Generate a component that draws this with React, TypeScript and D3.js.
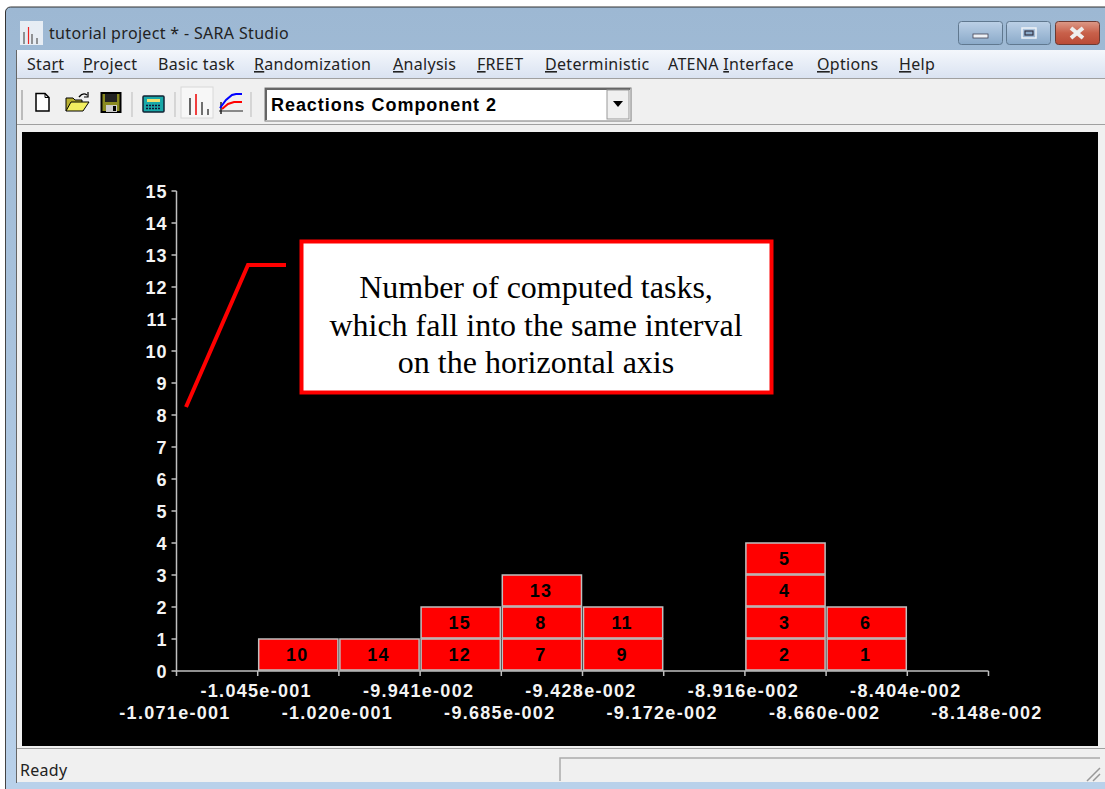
import React from 'react';
import * as d3 from 'd3';

const yTicks = [0, 1, 2, 3, 4, 5, 6, 7, 8, 9, 10, 11, 12, 13, 14, 15];
const xLabels = [
  '-1.071e-001', '-1.045e-001', '-1.020e-001', '-9.941e-002', '-9.685e-002', '-9.428e-002',
  '-9.172e-002', '-8.916e-002', '-8.660e-002', '-8.404e-002', '-8.148e-002',
];
// task numbers stacked in each interval, bottom to top
const binTasks = [[], [10], [14], [12, 15], [7, 8, 13], [9, 11], [], [2, 3, 4, 5], [1, 6], []];
const menuLabels = ['Start', 'Project', 'Basic task', 'Randomization', 'Analysis', 'FREET', 'Deterministic', 'ATENA Interface', 'Options', 'Help'];
// which letter of each menu label is underlined, -1 for none
const menuKeys = [3, 0, -1, 0, 0, 0, 0, 6, 0, 0];
const menuX = [27, 83, 158, 254, 393, 477, 545, 668, 817, 899];
const calloutLines = ['Number of computed tasks,', 'which fall into the same interval', 'on the horizontal axis'];

const uiFont = '"Noto Sans", "Open Sans", sans-serif';
const axisFont = '"Liberation Sans", Arial, sans-serif';
const axisGray = '#c0c0c0';

const x = d3.scalePoint<string>().domain(xLabels).range([176.5, 988.5]);
const y = d3.scaleLinear().domain([0, 15]).range([671, 191]);
const calloutPath = d3.line()([[186, 407], [248, 265], [286, 265]]) as string;

const Icons = () => (
  <g>
    {/* document */}
    <path d="M36 93.5h9l4 4v13.5h-13z" fill="#fff" stroke="#000" strokeWidth={1.5} />
    <path d="M45 93.5v4h4" fill="none" stroke="#000" />
    {/* folder */}
    <path d="M66 111V98h7l2 2h7v3" fill="#b8b030" stroke="#000" />
    <path d="M66 111l5-9h18l-6 9z" fill="#f2ee60" stroke="#000" />
    <path d="M79 97q4-5 8-2" fill="none" stroke="#000" strokeWidth={1.4} />
    <path d="M88 92v5h-4" fill="none" stroke="#000" strokeWidth={1.2} />
    {/* disk */}
    <rect x={101.5} y={93} width={19} height={19} fill="#8a8a20" stroke="#000" strokeWidth={2} />
    <rect x={105} y={94} width={12} height={8} fill="#222" />
    <rect x={106} y={105} width={11} height={7} fill="#ccc" />
    <rect x={113} y={106} width={3} height={5} fill="#000" />
    {/* calculator */}
    <rect x={143} y={96} width={21} height={16} rx={1} fill="#18a8a8" stroke="#123" strokeWidth={1.5} />
    <rect x={147} y={99} width={13} height={3} fill="#f0e070" />
    <path d="M146 105.5h15M146 108.5h15" stroke="#113" strokeWidth={1.5} strokeDasharray="2 1" />
    {/* histogram toggle */}
    <rect x={181} y={87} width={32} height={31} fill="#f7f7f7" stroke="#d8d8d8" />
    <path d="M190 98v17" stroke="#333" strokeWidth={1.5} />
    <path d="M196 94v21" stroke="#e00" strokeWidth={1.5} />
    <path d="M202 102v13M208 109v6" stroke="#444" strokeWidth={1.5} />
    {/* curves */}
    <path d="M221 114V102" stroke="#222" strokeWidth={1.5} />
    <path d="M219 111h24" stroke="#222" strokeWidth={1} />
    <path d="M220 108l6-8 6-5 4-1h6" fill="none" stroke="#00f" strokeWidth={2} />
    <path d="M222 109l6-5 6-2h8" fill="none" stroke="#f00" strokeWidth={2} />
  </g>
);

const App = () => {
  return (
    <svg width={1105} height={789} style={{ position: 'absolute', left: 0, top: 0 }}>
      <defs>
        <linearGradient id="title" x1="0" y1="0" x2="0" y2="1">
          <stop offset="0" stopColor="#9db8d3" />
          <stop offset="1" stopColor="#b9d1ea" />
        </linearGradient>
        <linearGradient id="menu" x1="0" y1="0" x2="0" y2="1">
          <stop offset="0" stopColor="#f4f7fc" />
          <stop offset="1" stopColor="#d9e2f1" />
        </linearGradient>
        <linearGradient id="btn" x1="0" y1="0" x2="0" y2="1">
          <stop offset="0" stopColor="#bcd0e6" />
          <stop offset="0.5" stopColor="#a3bdd8" />
          <stop offset="1" stopColor="#8aa9c8" />
        </linearGradient>
        <linearGradient id="close" x1="0" y1="0" x2="0" y2="1">
          <stop offset="0" stopColor="#dd9a88" />
          <stop offset="0.5" stopColor="#c8604a" />
          <stop offset="1" stopColor="#b94a36" />
        </linearGradient>
      </defs>

      {/* window frame */}
      <rect width={1105} height={789} fill="#fff" />
      <rect x={5.5} y={7} width={1105} height={790} rx={5} fill="url(#title)" stroke="#333" />
      <rect x={6} y={775} width={1099} height={14} fill="#b9d1ea" />
      <rect x={17} y={50} width={1088} height={29} fill="url(#menu)" />
      <rect x={17} y={79} width={1088} height={703} fill="#f0f0f0" />
      <path d="M17 78.5H1105M17 124.5H1105M17 748.5H1105" stroke="#a0a0a0" />
      <rect x={5} y={50} width={1} height={739} fill="#444" />
      <rect x={16} y={50} width={1} height={733} fill="#666" />

      {/* title bar */}
      <rect x={20} y={21} width={23} height={24} fill="#fff" opacity={0.75} />
      <path d="M24 32v12M32 34v10M37 38v6" stroke="#555" strokeWidth={1.2} />
      <path d="M28.5 27v17" stroke="#e22" strokeWidth={1.2} />
      <text x={49} y={39} fontFamily={uiFont} fontSize={16} letterSpacing={0.33} fill="#222">tutorial project * - SARA Studio</text>
      <rect x={958.5} y={21.5} width={44} height={23} rx={3} fill="url(#btn)" stroke="#60788f" />
      <rect x={1006.5} y={21.5} width={44} height={23} rx={3} fill="url(#btn)" stroke="#60788f" />
      <rect x={1055.5} y={21.5} width={44} height={23} rx={3} fill="url(#close)" stroke="#6b3a33" />
      <rect x={973} y={34} width={15} height={4} fill="#eef2f7" stroke="#445" strokeWidth={0.8} />
      <rect x={1022} y={28} width={14} height={10} fill="none" stroke="#eef2f7" strokeWidth={1.5} />
      <rect x={1025} y={31} width={8} height={4} fill="#8aa9c8" stroke="#334" strokeWidth={1.2} />
      <path d="M1071 28l12 10M1083 28l-12 10" stroke="#eee" strokeWidth={4} />

      {/* menu */}
      {menuLabels.map((label, i) => {
        const k = menuKeys[i];
        return (
          <text key={label} x={menuX[i]} y={70} fontFamily={uiFont} fontSize={16} letterSpacing={0.3} fill="#222">
            {k < 0 ? label : label.slice(0, k)}
            {k >= 0 && <tspan textDecoration="underline">{label[k]}</tspan>}
            {k >= 0 && label.slice(k + 1)}
          </text>
        );
      })}

      {/* toolbar */}
      <path d="M22 90V120" stroke="#bbb" strokeWidth={2} />
      <path d="M132 92V117M175 92V117M251 92V117" stroke="#bbb" />
      <Icons />
      <rect x={265} y={88} width={366} height={33} fill="#fff" stroke="#777" strokeWidth={1} />
      <path d="M266 120V89H630" fill="none" stroke="#666" strokeWidth={2} />
      <text x={271} y={111} fontFamily={axisFont} fontSize={18} fontWeight="bold" letterSpacing={0.95} fill="#000">
        Reactions Component 2
      </text>
      <rect x={607} y={90} width={22} height={29} fill="#f0f0f0" stroke="#999" />
      <path d="M613 101h10l-5 6z" fill="#000" />

      {/* plot panel */}
      <rect x={22} y={132} width={1076} height={614} fill="#000" />

      {/* axes */}
      <g stroke={axisGray} strokeWidth={1.5} fill="none">
        <path d={`M${x(xLabels[0])} ${y(15)}V${y(0)}H${x(xLabels[10])}`} />
        {yTicks.map(t => (
          <path key={t} d={`M${(x(xLabels[0]) as number) - 5} ${y(t)}h5`} />
        ))}
        {xLabels.map(l => (
          <path key={l} d={`M${x(l)} ${y(0)}v5`} />
        ))}
      </g>
      {yTicks.map(t => (
        <text key={t} x={167.5} y={y(t) + 6.5} textAnchor="end" fontFamily={axisFont} fontSize={18} fontWeight="bold" letterSpacing={1} fill="#f4f4f4">
          {t}
        </text>
      ))}
      {xLabels.map((l, i) => (
        <text
          key={l}
          x={(x(l) as number) - 1.5}
          y={i % 2 ? 697 : 719}
          textAnchor="middle"
          fontFamily={axisFont}
          fontSize={18}
          fontWeight="bold"
          letterSpacing={1.3}
          fill="#f4f4f4"
        >
          {l}
        </text>
      ))}

      {/* stacked task cells */}
      {binTasks.map((tasks, i) =>
        tasks.map((task, level) => {
          const x0 = x(xLabels[i]) as number;
          const x1 = x(xLabels[i + 1]) as number;
          return (
            <g key={task}>
              <rect
                x={x0 + 1}
                y={y(level + 1)}
                width={x1 - x0 - 2}
                height={y(level) - y(level + 1) - 1}
                fill="#ff0000"
                stroke={axisGray}
                strokeWidth={1.5}
              />
              <text
                x={(x0 + x1) / 2 - 1}
                y={y(level + 0.5) + 5.5}
                textAnchor="middle"
                fontFamily={axisFont}
                fontSize={18}
                fontWeight="bold"
                letterSpacing={1.2}
                fill="#000"
              >
                {task}
              </text>
            </g>
          );
        })
      )}

      {/* callout */}
      <path d={calloutPath} fill="none" stroke="#ff0000" strokeWidth={4} />
      <rect x={301.5} y={241.5} width={470} height={151} fill="#fff" stroke="#ff0000" strokeWidth={4} />
      {calloutLines.map((line, i) => (
        <text key={line} x={536} y={298 + i * 37.5} textAnchor="middle" fontFamily='"Liberation Serif", serif' fontSize={32} fill="#000">
          {line}
        </text>
      ))}

      {/* status bar */}
      <text x={20} y={776} fontFamily={uiFont} fontSize={16} letterSpacing={0.3} fill="#222">Ready</text>
      <path d="M560 781V758H1100" fill="none" stroke="#aaa" strokeWidth={1.5} />
      <path d="M1087 781l13 -13M1093 781l7 -7" stroke="#999" strokeWidth={1.5} />
    </svg>
  );
};

export default App;
